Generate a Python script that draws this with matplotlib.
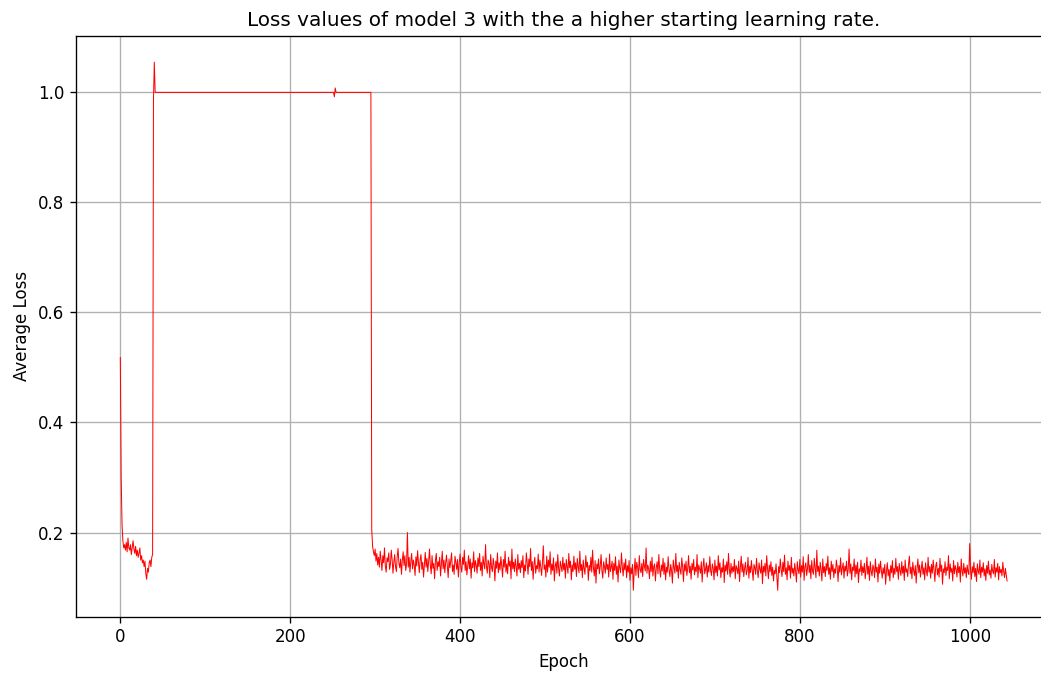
import numpy as np
import matplotlib
matplotlib.use("Agg")
import matplotlib.pyplot as plt

# epochs 0-38: quick drop then noisy low phase
warmup = [0.518, 0.300, 0.215, 0.185, 0.172, 0.178, 0.168, 0.182, 0.165, 0.190,
          0.172, 0.168, 0.178, 0.160, 0.172, 0.185, 0.170, 0.162, 0.175, 0.158,
          0.168, 0.155, 0.162, 0.172, 0.150, 0.158, 0.145, 0.150, 0.138, 0.148,
          0.125, 0.115, 0.135, 0.128, 0.145, 0.150, 0.138, 0.155, 0.160]

# epochs 39-41: jump up with spike
jump = [0.985, 1.055, 1.000]

# epochs 42-295: stuck at 1.0 (small blip near 252)
plateau = [1.0] * 210 + [0.992, 1.008] + [1.0] * 42

# epoch 296: drop
drop = [0.205]

# epochs 297-1044, loss in thousandths
noisy = [
    175, 165, 158, 170, 148, 162, 141, 155, 137, 166, 150, 131, 158, 145, 172, 139, 128, 154, 147, 163, 133, 142, 168, 151, 126,
    146, 160, 138, 129, 157, 171, 144, 136, 152, 124, 149, 165, 140, 158, 131, 143, 200, 137, 155, 128, 148, 162, 134, 150, 141,
    122, 156, 139, 167, 145, 127, 151, 160, 133, 146, 119, 142, 164, 137, 153, 129, 148, 170, 140, 125, 158, 135, 144, 116, 150,
    162, 131, 147, 138, 155, 121, 143, 166, 134, 150, 127, 145, 159, 139, 118, 152, 136, 148, 163, 129, 141, 124, 157, 146, 133,
    151, 119, 144, 161, 137, 128, 155, 142, 168, 131, 147, 123, 139, 158, 134, 152, 117, 145, 136, 165, 129, 149, 140, 126, 154,
    138, 162, 131, 146, 121, 157, 143, 134, 178, 139, 126, 150, 144, 118, 160, 137, 129, 153, 141, 112, 148, 135, 163, 127, 145,
    132, 156, 140, 119, 151, 137, 166, 128, 143, 125, 155, 139, 148, 116, 170, 134, 146, 129, 152, 138, 121, 160, 133, 144, 127,
    149, 136, 158, 118, 141, 130, 163, 145, 124, 152, 138, 171, 131, 147, 115, 143, 155, 126, 140, 134, 161, 128, 150, 137, 122,
    146, 176, 133, 141, 119, 157, 128, 150, 137, 165, 124, 143, 131, 154, 112, 139, 147, 126, 160, 135, 121, 148, 138, 129, 155,
    132, 144, 117, 151, 139, 126, 162, 136, 148, 114, 141, 129, 157, 133, 145, 120, 153, 138, 127, 166, 131, 142, 118, 150, 135,
    124, 158, 137, 146, 113, 140, 131, 155, 128, 168, 136, 121, 149, 108, 143, 134, 152, 125, 139, 160, 130, 117, 147, 138, 126,
    154, 133, 142, 119, 161, 129, 137, 148, 115, 144, 131, 156, 124, 139, 110, 150, 135, 127, 163, 138, 121, 145, 132, 152, 118,
    140, 128, 149, 113, 136, 125, 142, 95, 131, 153, 122, 146, 137, 118, 158, 133, 127, 144, 120, 151, 139, 130, 172, 126, 141,
    134, 116, 148, 129, 155, 121, 138, 143, 112, 136, 147, 125, 160, 132, 119, 141, 130, 153, 124, 145, 114, 137, 128, 156, 133,
    120, 142, 131, 108, 150, 136, 126, 162, 129, 140, 117, 146, 133, 124, 154, 138, 111, 143, 130, 148, 122, 135, 158, 127, 139,
    115, 144, 132, 151, 123, 137, 129, 160, 118, 141, 134, 126, 147, 110, 138, 153, 125, 133, 145, 119, 140, 128, 156, 131, 122,
    143, 135, 114, 150, 127, 139, 121, 158, 132, 145, 118, 136, 128, 152, 109, 141, 130, 147, 124, 162, 133, 119, 144, 126, 138,
    129, 151, 116, 140, 134, 125, 148, 111, 137, 157, 128, 143, 120, 135, 146, 123, 131, 155, 117, 139, 127, 149, 132, 113, 142,
    136, 124, 153, 130, 118, 145, 133, 126, 150, 107, 139, 128, 144, 121, 158, 134, 116, 141, 129, 147, 122, 137, 112, 131, 125,
    143, 118, 95, 138, 127, 152, 133, 120, 146, 129, 159, 124, 136, 114, 148, 131, 140, 117, 155, 126, 135, 121, 144, 130, 110,
    147, 132, 125, 151, 119, 140, 128, 156, 113, 137, 145, 122, 134, 160, 127, 141, 116, 149, 130, 124, 153, 135, 118, 168, 129,
    139, 121, 146, 133, 112, 152, 127, 138, 120, 144, 131, 157, 124, 136, 115, 148, 129, 142, 118, 134, 126, 150, 137, 111, 140,
    128, 154, 123, 135, 145, 117, 139, 130, 148, 121, 133, 170, 126, 143, 114, 137, 131, 152, 119, 141, 125, 146, 109, 134, 129,
    150, 122, 138, 127, 144, 116, 132, 155, 124, 139, 113, 147, 130, 121, 141, 135, 118, 152, 128, 137, 110, 143, 126, 148, 131,
    117, 136, 125, 142, 106, 130, 145, 121, 133, 112, 140, 127, 149, 118, 135, 124, 153, 129, 138, 115, 144, 131, 122, 147, 126,
    139, 113, 150, 128, 134, 120, 143, 157, 125, 137, 116, 146, 131, 122, 140, 108, 135, 152, 127, 141, 119, 133, 148, 124, 136,
    114, 145, 130, 121, 155, 128, 138, 117, 142, 126, 150, 132, 111, 139, 146, 123, 135, 119, 153, 129, 141, 106, 134, 127, 147,
    122, 137, 131, 158, 116, 143, 128, 135, 112, 149, 125, 140, 133, 119, 146, 127, 138, 110, 152, 130, 121, 144, 126, 136, 118,
    141, 129, 124, 180, 133, 115, 138, 127, 146, 120, 135, 111, 143, 130, 124, 150, 118, 137, 128, 145, 121, 134, 113, 140, 126,
    148, 123, 132, 117, 142, 130, 125, 151, 119, 136, 128, 144, 114, 138, 127, 133, 121, 146, 129, 118, 135, 124, 112,
]

loss = np.array(warmup + jump + plateau + drop + [v / 1000 for v in noisy])
epochs = np.arange(len(loss))

fig = plt.figure(figsize=(1041 / 120, 674 / 120), dpi=120)
ax = fig.add_axes([0.073, 0.085, 0.937, 0.862])
ax.plot(epochs, loss, color="red", linewidth=0.6)
ax.set_title("Loss values of model 3 with the a higher starting learning rate.")
ax.set_xlabel("Epoch")
ax.set_ylabel("Average Loss")
ax.grid(True)

fig.savefig("out.png", dpi=120)
